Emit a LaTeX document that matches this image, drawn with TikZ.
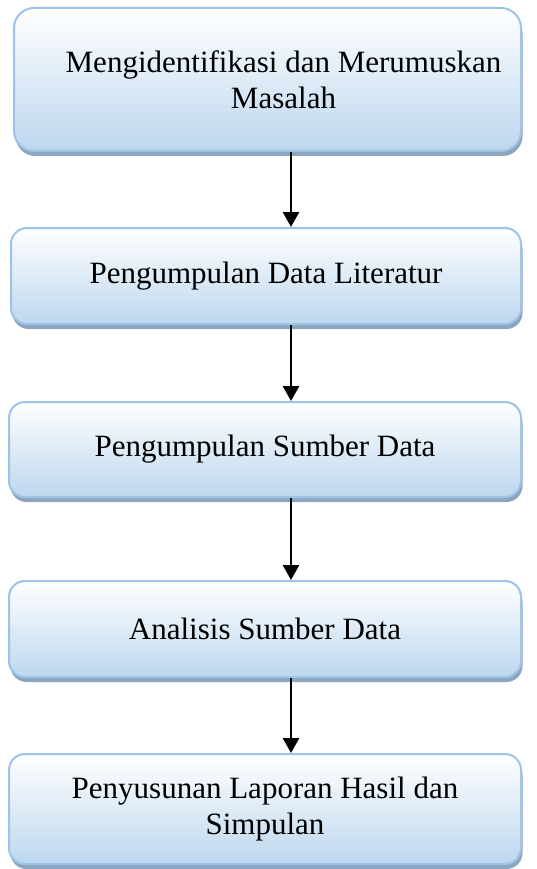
\documentclass[tikz,border=0pt]{standalone}
\usepackage{fontspec}
\setmainfont{Liberation Serif}
\usetikzlibrary{arrows.meta, shadows}
\definecolor{boxline}{RGB}{157,195,230}
\definecolor{boxlow}{RGB}{189,215,238}
\definecolor{boxshadow}{RGB}{141,165,191}

\begin{document}
\begin{tikzpicture}[x=1pt,y=1pt,->,>={Triangle[width=16pt,length=15pt]},
    stage/.style={draw=boxline, line width=2pt, rounded corners=16pt,
        top color=white, bottom color=boxlow, align=center,
        font=\fontsize{31}{36}\selectfont,
        drop shadow={shadow xshift=1.5pt, shadow yshift=-5pt, fill=boxshadow, opacity=1}},
    flow/.style={line width=2.5pt, black}]
    \useasboundingbox (0,0) rectangle (536,-869);
                \node[stage, minimum width=507pt, minimum height=143pt, rounded corners=20pt] (masalah) at (267.5,-79.5)
                    {\hspace*{32pt}Mengidentifikasi dan Merumuskan\\\hspace*{32pt}Masalah};
                \node[stage, minimum width=510pt, minimum height=96pt] (literatur) at (266,-276) {Pengumpulan Data Literatur};
                \node[stage, minimum width=512pt, minimum height=95pt] (sumber) at (265,-449.5) {Pengumpulan Sumber Data};
                \node[stage, minimum width=512pt, minimum height=96pt] (analisis) at (265,-629) {Analisis Sumber Data};
                \node[stage, minimum width=512pt, minimum height=110pt] (laporan) at (265,-809) {Penyusunan Laporan Hasil dan\\Simpulan};
                \coordinate (ax) at (291,0);
                \path[flow]
                (masalah.south -| ax) edge (literatur.north -| ax)
                (literatur.south -| ax) edge (sumber.north -| ax)
                (sumber.south -| ax) edge (analisis.north -| ax)
                (analisis.south -| ax) edge (laporan.north -| ax)
                ;
            \end{tikzpicture}
\end{document}
